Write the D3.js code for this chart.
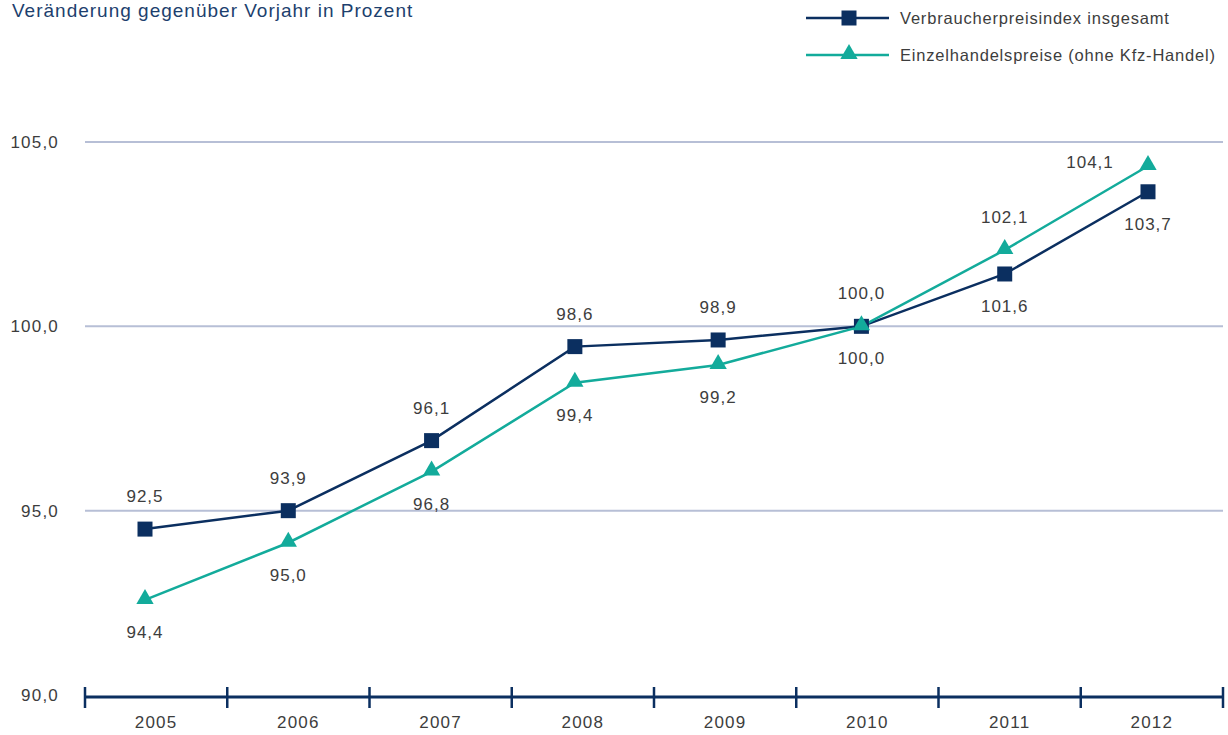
<!DOCTYPE html>
<html>
<head>
<meta charset="utf-8">
<script src="https://cdn.jsdelivr.net/npm/d3@7"></script>
<style>
  body { margin: 0; background: #fff; }
  svg { display: block; font-family: "Liberation Sans", Arial, sans-serif; }
</style>
</head>
<body>
<svg width="1228" height="735"></svg>
<script>
// ---- Daten
const years = ['2005', '2006', '2007', '2008', '2009', '2010', '2011', '2012'];
// Lage der Marker
const vpiPoints = [94.5, 95.0, 96.9, 99.45, 99.63, 100.0, 101.42, 103.65];
const ehPoints = [92.58, 94.13, 96.06, 98.47, 98.95, 100.0, 102.07, 104.35];
// Beschriftungen, wie gedruckt (obere / untere Zahl je Jahr)
const upperLabels = [92.5, 93.9, 96.1, 98.6, 98.9, 100.0, 102.1, 104.1];
const lowerLabels = [94.4, 95.0, 96.8, 99.4, 99.2, 100.0, 101.6, 103.7];
const yTicks = [90, 95, 100, 105];
const seriesNames = ['Verbraucherpreisindex insgesamt', 'Einzelhandelspreise (ohne Kfz-Handel)'];
const title = 'Veränderung gegenüber Vorjahr in Prozent';

const navy = '#0b2f60';
const teal = '#13ab9b';
const textCol = '#3d3d3d';
const gridCol = '#b7bfd6';

const svg = d3.select('svg');
const de = d3.formatLocale({ decimal: ',', thousands: '.', grouping: [3], currency: ['', ' €'] });
const fmt = de.format('.1f');

// ---- Skalen
const xBand = d3.scaleBand().domain(years).range([85, 1223]);
const xPt = d3.scalePoint().domain(years).range([145, 1148]);
const y = d3.scaleLinear().domain([90, 105]).range([695, 142]);

// ---- Titel
svg.append('text')
    .attr('x', 12).attr('y', 17)
    .attr('fill', '#1d3f6e')
    .style('font-size', '19px')
    .style('letter-spacing', '1px')
    .text(title);

// ---- Gitterlinien + y-Beschriftung
const yAxis = d3.axisLeft(y).tickValues(yTicks).tickFormat(fmt).tickSize(0).tickPadding(0);
const gy = svg.append('g').attr('transform', 'translate(59,0)').call(yAxis);
gy.select('.domain').remove();
gy.selectAll('text').attr('fill', textCol).style('font-size', '17px')
    .style('letter-spacing', '1.2px').attr('dy', '0.32em');

svg.append('g').selectAll('line')
    .data(yTicks.filter(d => d > 90))
    .join('line')
    .attr('x1', 85).attr('x2', 1223)
    .attr('y1', d => y(d)).attr('y2', d => y(d))
    .attr('stroke', gridCol).attr('stroke-width', 2);

// ---- x-Achse
const axisY = 697;
svg.append('line')
    .attr('x1', 85).attr('x2', 1223).attr('y1', axisY).attr('y2', axisY)
    .attr('stroke', navy).attr('stroke-width', 3);
svg.append('g').selectAll('line')
    .data(years.map(d => xBand(d)).concat([xBand.range()[1]]))
    .join('line')
    .attr('x1', d => d).attr('x2', d => d)
    .attr('y1', axisY - 10).attr('y2', axisY + 11)
    .attr('stroke', navy).attr('stroke-width', 2.5);

const xAxis = d3.axisBottom(xBand).tickSize(0).tickPadding(0);
const gx = svg.append('g').attr('transform', `translate(0, ${axisY + 19})`).call(xAxis);
gx.select('.domain').remove();
gx.selectAll('text').attr('fill', textCol).style('font-size', '17px')
    .style('letter-spacing', '1.2px').attr('dy', '0.71em');

// ---- Linien
const line = d3.line().x((d, i) => xPt(years[i])).y(d => y(d));
svg.append('path').datum(vpiPoints)
    .attr('d', line).attr('fill', 'none').attr('stroke', navy).attr('stroke-width', 2.5);
svg.append('path').datum(ehPoints)
    .attr('d', line).attr('fill', 'none').attr('stroke', teal).attr('stroke-width', 2.5);

const square = d3.symbol().type(d3.symbolSquare).size(225);
const triangle = d3.symbol().type(d3.symbolTriangle).size(130);

svg.append('g').selectAll('path')
    .data(vpiPoints)
    .join('path')
    .attr('d', square)
    .attr('transform', (d, i) => `translate(${xPt(years[i])}, ${y(d)})`)
    .attr('fill', navy);

svg.append('g').selectAll('path')
    .data(ehPoints)
    .join('path')
    .attr('d', triangle)
    .attr('transform', (d, i) => `translate(${xPt(years[i])}, ${y(d) - 1})`)
    .attr('fill', teal);

// ---- Wertebeschriftungen
const labelG = svg.append('g')
    .attr('fill', textCol)
    .style('font-size', '17px')
    .style('letter-spacing', '1px')
    .attr('text-anchor', 'middle');

years.forEach((yr, i) => {
    const top = Math.min(y(vpiPoints[i]), y(ehPoints[i]));
    const bot = Math.max(y(vpiPoints[i]), y(ehPoints[i]));
    const last = i === years.length - 1;
    labelG.append('text')
        .attr('x', xPt(yr) + (last ? -58 : 0))
        .attr('y', last ? top - 4 : top - 33)
        .attr('dy', '0.35em')
        .text(fmt(upperLabels[i]));
    labelG.append('text')
        .attr('x', xPt(yr))
        .attr('y', bot + 32)
        .attr('dy', '0.35em')
        .text(fmt(lowerLabels[i]));
});

// ---- Legende
const legend = svg.append('g');
const rows = [
    { name: seriesNames[0], color: navy, sym: square, ty: 18 },
    { name: seriesNames[1], color: teal, sym: triangle, ty: 55 }
];
rows.forEach((r, i) => {
    legend.append('line')
        .attr('x1', 806).attr('x2', 889).attr('y1', r.ty).attr('y2', r.ty)
        .attr('stroke', r.color).attr('stroke-width', 2.5);
    legend.append('path')
        .attr('d', r.sym)
        .attr('transform', `translate(849, ${r.ty - (i ? 1 : 0)})`)
        .attr('fill', r.color);
    legend.append('text')
        .attr('x', 900).attr('y', r.ty)
        .attr('dy', '0.35em')
        .attr('fill', textCol)
        .style('font-size', '16.5px')
        .style('letter-spacing', '0.8px')
        .text(r.name);
});
</script>
</body>
</html>
